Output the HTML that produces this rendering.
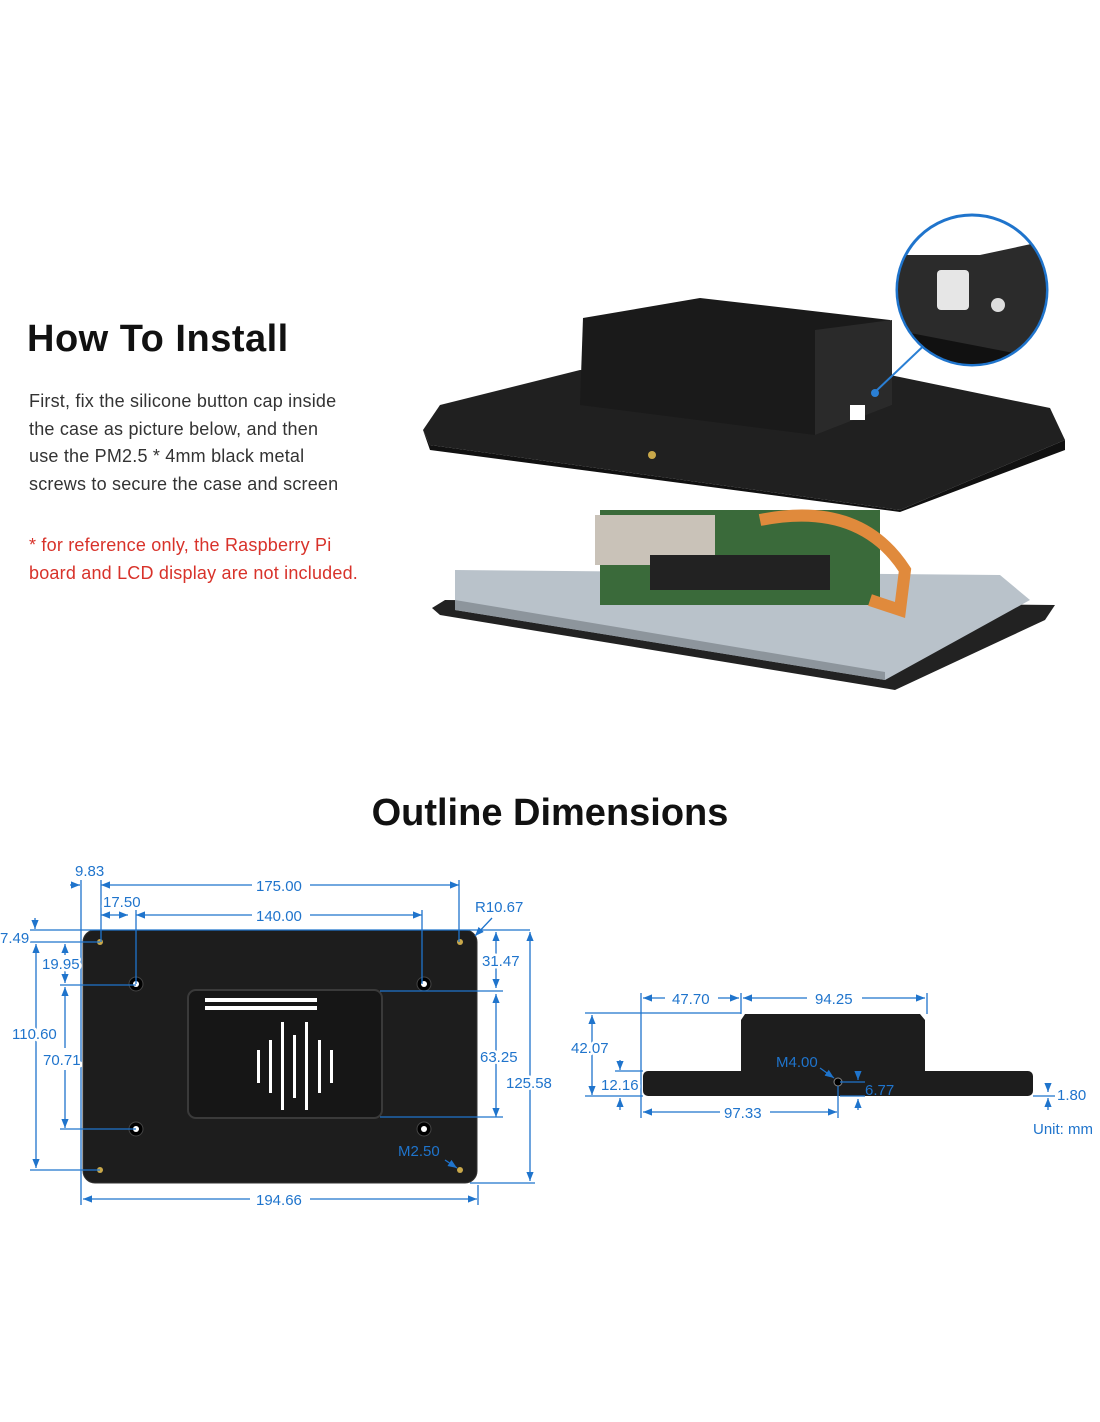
<!DOCTYPE html>
<html><head><meta charset="utf-8"><style>
html,body{margin:0;padding:0;background:#fff;}
body{width:1100px;height:1422px;position:relative;overflow:hidden;font-family:"Liberation Sans",sans-serif;}
.t{position:absolute;}
</style></head><body>
<div class="t" style="left:27px;top:318px;font-size:38px;font-weight:bold;color:#111;letter-spacing:0.5px;">How To Install</div>
<div class="t" style="left:29px;top:388px;font-size:18px;line-height:27.5px;color:#333;letter-spacing:0.2px;">First, fix the silicone button cap inside<br>the case as picture below, and then<br>use the PM2.5 * 4mm black metal<br>screws to secure the case and screen</div>
<div class="t" style="left:29px;top:532px;font-size:18px;line-height:27.5px;color:#d8322a;letter-spacing:0.2px;">* for reference only, the Raspberry Pi<br>board and LCD display are not included.</div>
<div class="t" style="left:0;width:1100px;top:792px;text-align:center;font-size:38px;font-weight:bold;color:#111;">Outline Dimensions</div>

<svg class="t" style="left:0;top:0" width="1100" height="1422" viewBox="0 0 1100 1422">
<defs>
<marker id="a" viewBox="0 0 10 10" refX="10" refY="5" markerWidth="7" markerHeight="7" orient="auto-start-reverse"><path d="M0,1L10,5L0,9z" fill="#1f74cc"/></marker>
</defs>
<polygon points="445,600 1055,605 1045,620 895,690 440,615 432,608" fill="#222"/>
<polygon points="455,570 1000,575 1030,600 885,680 455,610" fill="#b9c2ca"/>
<polygon points="455,600 885,672 885,680 455,610" fill="#8d959c"/>
<rect x="600" y="510" width="280" height="95" fill="#3a6a3a"/>
<rect x="595" y="515" width="120" height="50" fill="#c9c2b8"/>
<rect x="650" y="555" width="180" height="35" fill="#222"/>
<path d="M760,520 Q860,500 905,570 L900,610 L870,600" fill="none" stroke="#e08a3c" stroke-width="12"/>
<polygon points="440,405 580,370 890,375 1050,408 1065,440 900,510 430,445 423,430" fill="#202020"/>
<polygon points="423,430 430,445 900,510 1065,440 1065,450 900,512 430,450" fill="#111"/>
<polygon points="583,318 700,298 890,320 892,405 815,435 580,405" fill="#1a1a1a"/>
<polygon points="815,330 892,320 892,405 815,435" fill="#2a2a2a"/>
<rect x="850" y="405" width="15" height="15" fill="#fff"/>
<circle cx="652" cy="455" r="4" fill="#c9a84a"/>
<line x1="875" y1="392" x2="935" y2="335" stroke="#2a7fd4" stroke-width="2"/>
<circle cx="875" cy="393" r="4" fill="#2a7fd4"/>
<circle cx="972" cy="290" r="75" fill="#fff" stroke="#1f74cc" stroke-width="3"/>
<clipPath id="c"><circle cx="972" cy="290" r="74"/></clipPath>
<g clip-path="url(#c)"><polygon points="895,255 980,255 1050,240 1050,380 895,380" fill="#2b2b2b"/><polygon points="895,330 1050,360 1050,380 895,380" fill="#111"/><rect x="937" y="270" width="32" height="40" rx="4" fill="#e6e6e6"/><circle cx="998" cy="305" r="7" fill="#ddd"/></g>

<rect x="83" y="930" width="394" height="253" rx="12" fill="#1d1d1d" stroke="#333"/>
<rect x="188" y="990" width="194" height="128" rx="8" fill="#161616" stroke="#3a3a3a" stroke-width="2"/>
<g fill="#fff"><rect x="205" y="998" width="112" height="4"/><rect x="205" y="1006" width="112" height="4"/>
<rect x="257" y="1050" width="3" height="33"/><rect x="269" y="1040" width="3" height="53"/><rect x="281" y="1022" width="3" height="88"/><rect x="293" y="1035" width="3" height="63"/><rect x="305" y="1022" width="3" height="88"/><rect x="318" y="1040" width="3" height="53"/><rect x="330" y="1050" width="3" height="33"/></g>
<g fill="#000" stroke="#444"><circle cx="136" cy="984" r="7"/><circle cx="424" cy="984" r="7"/><circle cx="136" cy="1129" r="7"/><circle cx="424" cy="1129" r="7"/></g>
<g fill="#fff"><circle cx="136" cy="984" r="3"/><circle cx="424" cy="984" r="3"/><circle cx="136" cy="1129" r="3"/><circle cx="424" cy="1129" r="3"/></g>
<g fill="#c9a84a"><circle cx="100" cy="942" r="3"/><circle cx="460" cy="942" r="3"/><circle cx="100" cy="1170" r="3"/><circle cx="460" cy="1170" r="3"/></g>

<g stroke="#1f74cc" stroke-width="1.3" fill="none">
<line x1="101" y1="885" x2="252" y2="885" marker-start="url(#a)"/><line x1="310" y1="885" x2="459" y2="885" marker-end="url(#a)"/>
<line x1="101" y1="880" x2="101" y2="942"/><line x1="459" y1="880" x2="459" y2="942"/>
<line x1="101" y1="915" x2="128" y2="915" marker-start="url(#a)" marker-end="url(#a)"/>
<line x1="136" y1="915" x2="252" y2="915" marker-start="url(#a)"/><line x1="310" y1="915" x2="422" y2="915" marker-end="url(#a)"/>
<line x1="136" y1="910" x2="136" y2="984"/><line x1="422" y1="910" x2="422" y2="984"/>
<line x1="70" y1="885" x2="80" y2="885" marker-end="url(#a)"/><line x1="81" y1="880" x2="81" y2="1205"/>
<line x1="35" y1="918" x2="35" y2="929" marker-end="url(#a)"/><line x1="30" y1="930" x2="530" y2="930"/><line x1="30" y1="942" x2="100" y2="942"/>
<line x1="36" y1="944" x2="36" y2="1168" marker-start="url(#a)" marker-end="url(#a)"/><line x1="30" y1="1170" x2="100" y2="1170"/>
<line x1="65" y1="944" x2="65" y2="955" marker-start="url(#a)"/><line x1="65" y1="970" x2="65" y2="983" marker-end="url(#a)"/>
<line x1="60" y1="985" x2="136" y2="985"/>
<line x1="65" y1="987" x2="65" y2="1048" marker-start="url(#a)"/><line x1="65" y1="1070" x2="65" y2="1128" marker-end="url(#a)"/><line x1="60" y1="1129" x2="136" y2="1129"/>
<line x1="496" y1="932" x2="496" y2="988" marker-start="url(#a)" marker-end="url(#a)"/>
<line x1="380" y1="991" x2="503" y2="991"/>
<line x1="496" y1="994" x2="496" y2="1117" marker-start="url(#a)" marker-end="url(#a)"/><line x1="380" y1="1117" x2="503" y2="1117"/>
<line x1="530" y1="932" x2="530" y2="1181" marker-start="url(#a)" marker-end="url(#a)"/><line x1="470" y1="1183" x2="535" y2="1183"/>
<line x1="478" y1="1185" x2="478" y2="1205"/>
<line x1="83" y1="1199" x2="250" y2="1199" marker-start="url(#a)"/><line x1="310" y1="1199" x2="477" y2="1199" marker-end="url(#a)"/>
<line x1="492" y1="918" x2="475" y2="936" marker-end="url(#a)"/>
<line x1="445" y1="1160" x2="457" y2="1168" marker-end="url(#a)"/>
</g>

<polygon points="745,1014 920,1014 925,1020 925,1071 741,1071 741,1020" fill="#1d1d1d"/>
<rect x="643" y="1071" width="390" height="25" rx="5" fill="#1d1d1d"/>
<circle cx="838" cy="1082" r="4" fill="#000" stroke="#888"/>
<g stroke="#1f74cc" stroke-width="1.3" fill="none">
<line x1="641" y1="993" x2="641" y2="1118"/><line x1="741" y1="993" x2="741" y2="1014"/><line x1="927" y1="993" x2="927" y2="1014"/>
<line x1="643" y1="998" x2="665" y2="998" marker-start="url(#a)"/><line x1="718" y1="998" x2="739" y2="998" marker-end="url(#a)"/>
<line x1="743" y1="998" x2="807" y2="998" marker-start="url(#a)"/><line x1="862" y1="998" x2="925" y2="998" marker-end="url(#a)"/>
<line x1="585" y1="1013" x2="741" y2="1013"/>
<line x1="592" y1="1015" x2="592" y2="1095" marker-start="url(#a)" marker-end="url(#a)"/>
<line x1="585" y1="1096" x2="643" y2="1096"/><line x1="615" y1="1071" x2="643" y2="1071"/>
<line x1="620" y1="1060" x2="620" y2="1070" marker-end="url(#a)"/><line x1="620" y1="1110" x2="620" y2="1098" marker-end="url(#a)"/>
<line x1="643" y1="1112" x2="720" y2="1112" marker-start="url(#a)"/><line x1="770" y1="1112" x2="837" y2="1112" marker-end="url(#a)"/>
<line x1="838" y1="1086" x2="838" y2="1118"/><line x1="820" y1="1068" x2="834" y2="1078" marker-end="url(#a)"/>
<line x1="858" y1="1072" x2="858" y2="1080" marker-end="url(#a)"/><line x1="858" y1="1110" x2="858" y2="1099" marker-end="url(#a)"/>
<line x1="840" y1="1082" x2="865" y2="1082"/><line x1="840" y1="1096" x2="865" y2="1096"/>
<line x1="1048" y1="1083" x2="1048" y2="1092" marker-end="url(#a)"/><line x1="1048" y1="1110" x2="1048" y2="1098" marker-end="url(#a)"/>
<line x1="1033" y1="1096" x2="1055" y2="1096"/>
</g>
<g fill="#1f74cc" font-family="Liberation Sans, sans-serif" font-size="15" stroke="#fff" stroke-width="5" paint-order="stroke" stroke-linejoin="round">
<text x="75" y="876">9.83</text><text x="256" y="891">175.00</text><text x="103" y="907">17.50</text><text x="256" y="921">140.00</text>
<text x="475" y="912">R10.67</text><text x="0" y="943">7.49</text><text x="42" y="969">19.95</text><text x="482" y="966">31.47</text>
<text x="12" y="1039">110.60</text><text x="43" y="1065">70.71</text><text x="480" y="1062">63.25</text><text x="506" y="1088">125.58</text>
<text x="256" y="1205">194.66</text>
<text x="672" y="1004">47.70</text><text x="815" y="1004">94.25</text><text x="571" y="1053">42.07</text><text x="601" y="1090">12.16</text>
<text x="1057" y="1100">1.80</text><text x="724" y="1118">97.33</text>
<text x="1033" y="1134">Unit: mm</text>
</g>
<g fill="#1f74cc" font-family="Liberation Sans, sans-serif" font-size="15">
<text x="398" y="1156">M2.50</text><text x="776" y="1067">M4.00</text><text x="865" y="1095">6.77</text>
</g>
</svg>
</body></html>
